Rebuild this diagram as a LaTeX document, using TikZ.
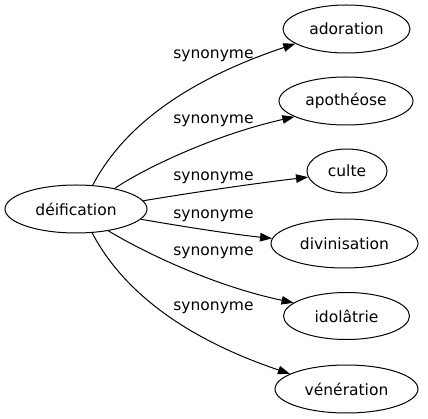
\documentclass[tikz,border=0pt]{standalone}
\usepackage{fontspec}
\setmainfont{DejaVu Sans}
\usetikzlibrary{shapes.geometric,arrows.meta}
\tikzset{
  word/.style={ellipse, draw, line width=1pt, inner sep=0pt, font=\fontsize{15.5}{18}\selectfont},
  rel/.style={draw, line width=1pt, -{Triangle[length=12pt,width=8.5pt]}},
  lab/.style={anchor=base, inner sep=0pt, font=\fontsize{15.5}{18}\selectfont}
}
\begin{document}
\begin{tikzpicture}[x=1pt,y=-1pt]
\useasboundingbox (0,0) rectangle (428,419);
\node[word, minimum width=142pt, minimum height=48pt] (d) at (76,209) {déification};
\node[word, minimum width=127pt, minimum height=48pt] (a) at (346.5,29) {adoration};
\node[word, minimum width=134pt, minimum height=48pt] (b) at (346,101) {apothéose};
\node[word, minimum width=80pt, minimum height=44pt] (c) at (347,171) {culte};
\node[word, minimum width=147pt, minimum height=49pt] (e) at (344.5,243.5) {divinisation};
\node[word, minimum width=126pt, minimum height=47pt] (f) at (346.5,316) {idolâtrie};
\node[word, minimum width=143pt, minimum height=48pt] (g) at (346.5,389) {vénération};
\draw[rel] (d.55) .. controls (125,124) and (190,79) .. (a.196);
\draw[rel] (d.28.4) .. controls (140,171) and (210,136) .. (b.197.3);
\draw[rel] (d.7.6) .. controls (190,193) and (250,184) .. (c.189.2);
\draw[rel] (d.-9.75) .. controls (180,226) and (230,234) .. (e.176.4);
\draw[rel] (d.-34) .. controls (140,250) and (210,285) .. (f.166.6);
\draw[rel] (d.-56.3) .. controls (125,295) and (190,340) .. (g.165.3);
\node[lab] (l1) at (213.5,59) {synonyme};
\node[lab] (l2) at (213.5,124) {synonyme};
\node[lab] (l3) at (213.5,181) {synonyme};
\node[lab] (l4) at (213.5,219) {synonyme};
\node[lab] (l5) at (213.5,256) {synonyme};
\node[lab] (l6) at (213.5,311) {synonyme};
\end{tikzpicture}
\end{document}
